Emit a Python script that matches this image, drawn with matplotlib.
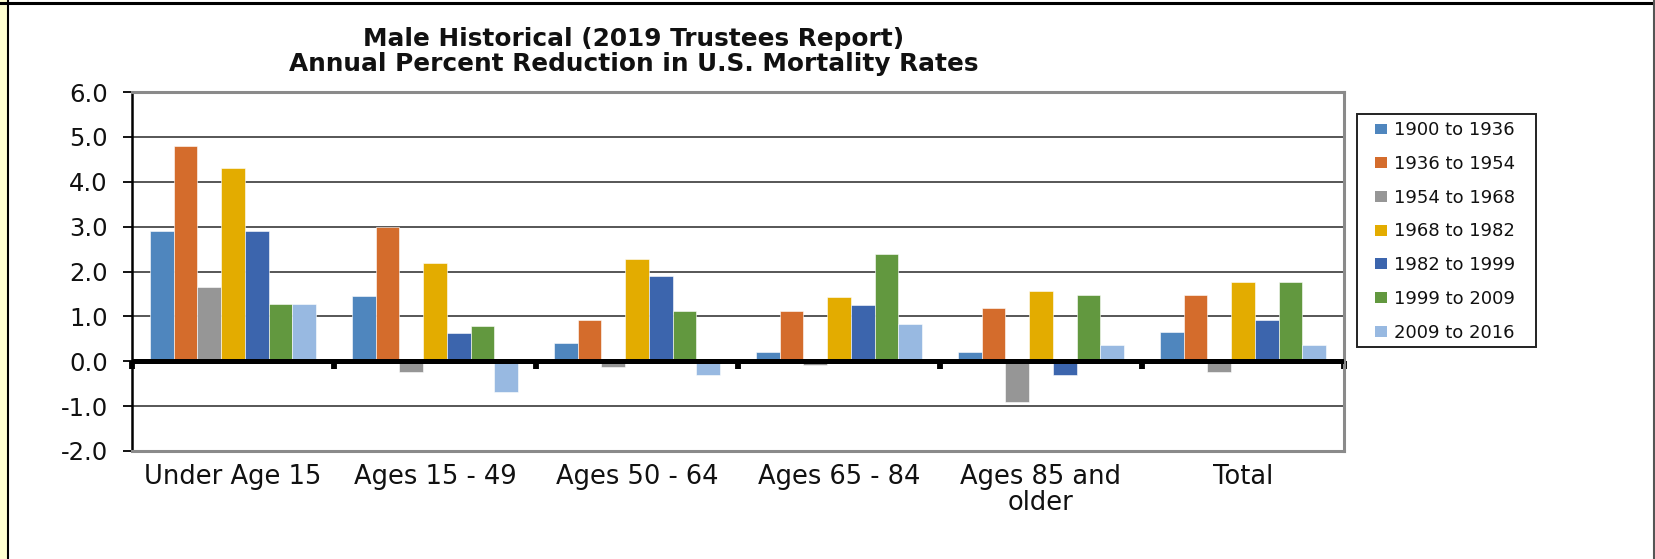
import matplotlib
matplotlib.use("Agg")
import matplotlib.pyplot as plt
from matplotlib.patches import Rectangle, Patch
from matplotlib.lines import Line2D
import numpy as np

categories = ["Under Age 15", "Ages 15 - 49", "Ages 50 - 64", "Ages 65 - 84",
              "Ages 85 and\nolder", "Total"]
series_labels = ["1900 to 1936", "1936 to 1954", "1954 to 1968", "1968 to 1982",
                 "1982 to 1999", "1999 to 2009", "2009 to 2016"]
s1900_1936 = [2.9, 1.45, 0.4, 0.2, 0.2, 0.65]
s1936_1954 = [4.8, 3.0, 0.93, 1.13, 1.19, 1.47]
s1954_1968 = [1.65, -0.25, -0.12, -0.08, -0.9, -0.25]
s1968_1982 = [4.3, 2.2, 2.27, 1.44, 1.56, 1.76]
s1982_1999 = [2.9, 0.62, 1.89, 1.25, -0.3, 0.93]
s1999_2009 = [1.27, 0.78, 1.13, 2.39, 1.47, 1.76]
s2009_2016 = [1.27, -0.69, -0.3, 0.84, 0.36, 0.37]
yticks = [-2.0, -1.0, 0.0, 1.0, 2.0, 3.0, 4.0, 5.0, 6.0]

series = [s1900_1936, s1936_1954, s1954_1968, s1968_1982, s1982_1999, s1999_2009, s2009_2016]
colors = ["#4F86BE", "#D46C2C", "#969696", "#E3AC00", "#3C65AD", "#62983F", "#98B9E1"]

plt.rcParams['font.family'] = ['DejaVu Sans']

W, H = 1655, 559
fig = plt.figure(figsize=(W / 100, H / 100), dpi=100)
fig.patch.set_facecolor("white")

left, right, top, bottom = 132, 1344, 92, 451
ax = fig.add_axes([left / W, 1 - bottom / H, (right - left) / W, (bottom - top) / H])

x = np.arange(len(categories))
bw = 0.1175
n = len(series)
for i, (vals, c, lab) in enumerate(zip(series, colors, series_labels)):
    ax.bar(x + (i - (n - 1) / 2) * bw, vals, width=bw, color=c, label=lab,
           zorder=3, edgecolor="white", linewidth=0.4)

ax.set_xlim(-0.5, len(categories) - 0.5)
ax.set_ylim(-2, 6)
ax.set_yticks(yticks)
ax.set_yticklabels([f"{v:.1f}" for v in yticks], fontsize=17.5, color="#111111")
ax.tick_params(axis="y", direction="out", length=6.5, width=1.3, color="black", pad=11)
ax.set_xticks(x)
ax.set_xticklabels(categories, fontsize=18.5, color="#111111", linespacing=1.05)
ax.tick_params(axis="x", length=0, pad=9)

ax.grid(axis="y", color="#3a3a3a", linewidth=1.2, zorder=1)
ax.set_axisbelow(True)

for s in ["top", "right", "bottom"]:
    ax.spines[s].set_color("#8a8a8a")
    ax.spines[s].set_linewidth(2.2)
ax.spines["left"].set_color("black")
ax.spines["left"].set_linewidth(1.8)

# zero axis line and category boundary ticks
ax.axhline(0, color="black", linewidth=3.6, zorder=5)
sec = ax.secondary_xaxis(0.25)
sec.set_xticks(np.arange(-0.5, len(categories), 1.0))
sec.set_xticklabels([])
sec.tick_params(direction="out", length=6, width=4.2, color="black")
sec.spines["bottom"].set_visible(False)

# title
tx = 634 / W
fig.text(tx, 1 - 39 / H, "Male Historical (2019 Trustees Report)", ha="center", va="center",
         fontsize=17.8, fontweight="bold", color="#111111")
fig.text(tx, 1 - 64 / H, "Annual Percent Reduction in U.S. Mortality Rates", ha="center",
         va="center", fontsize=17.8, fontweight="bold", color="#111111")

# legend
lx0, lx1, ly0, ly1 = 1357, 1536, 114, 347
fig.patches.append(Rectangle((lx0 / W, 1 - ly1 / H), (lx1 - lx0) / W, (ly1 - ly0) / H,
                             transform=fig.transFigure, facecolor="white",
                             edgecolor="#222222", linewidth=1.4, zorder=1))
handles = [Patch(facecolor=c, edgecolor="none") for c in colors]
leg = fig.legend(handles, series_labels, loc="center left",
                 bbox_to_anchor=(1375 / W, 1 - (ly0 + ly1 + 2) / 2 / H),
                 frameon=False, fontsize=13, handlelength=0.65, handleheight=0.55,
                 handletextpad=0.4, labelspacing=0.87, borderpad=0, borderaxespad=0)
for t in leg.get_texts():
    t.set_color("#111111")

# figure border decorations
fig.patches.append(Rectangle((0, 0), 7 / W, 1, transform=fig.transFigure,
                             facecolor="#FFFFD0", edgecolor="none", zorder=0))
fig.lines.append(Line2D([8 / W, 8 / W], [0, 1], transform=fig.transFigure,
                        color="black", linewidth=1.5))
fig.lines.append(Line2D([0, 1], [1 - 3 / H, 1 - 3 / H], transform=fig.transFigure,
                        color="black", linewidth=2.2))
fig.lines.append(Line2D([1 - 1.5 / W, 1 - 1.5 / W], [0, 1], transform=fig.transFigure,
                        color="#555555", linewidth=1.5))

fig.savefig("out.png", dpi=100)
